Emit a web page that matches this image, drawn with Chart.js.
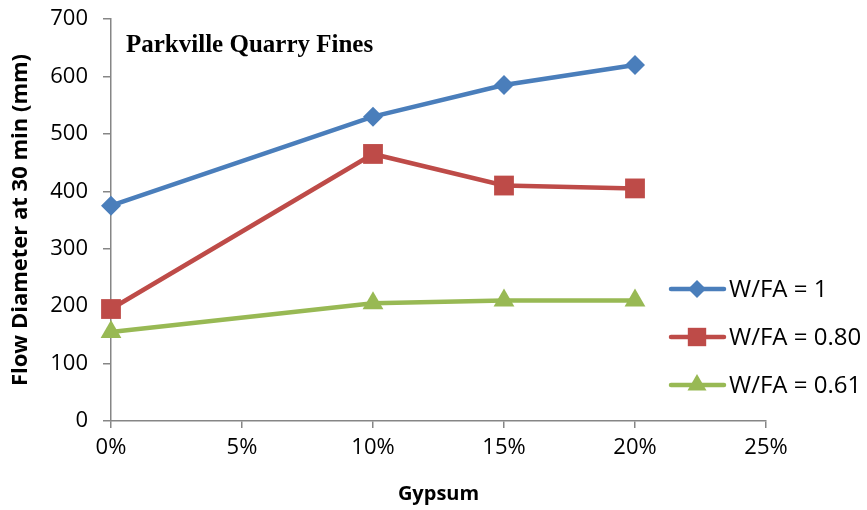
<!DOCTYPE html>
<html>
<head>
<meta charset="utf-8">
<script src="https://cdn.jsdelivr.net/npm/chart.js@4/dist/chart.umd.min.js"></script>
<style>
  html, body { margin: 0; padding: 0; background: #fff; }
  #wrap { width: 867px; height: 510px; }
</style>
</head>
<body>
<div id="wrap"><canvas id="c" width="867" height="510"></canvas></div>
<script>
// Gypsum content (%) and flow diameters at 30 min (mm)
const gypsum = [0, 10, 15, 20];
const flowWFA100 = [375, 530, 585, 620];
const flowWFA080 = [195, 465, 410, 405];
const flowWFA061 = [155, 205, 210, 210];
const seriesNames = ['W/FA = 1', 'W/FA = 0.80', 'W/FA = 0.61'];
const chartTitle = 'Parkville Quarry Fines';
const xTitle = 'Gypsum';
const yTitle = 'Flow Diameter at 30 min (mm)';

const colors = ['#4A7EBB', '#BE4B48', '#98B954'];
const styles = ['rectRot', 'rect', 'triangle'];
const radii = [10, 14, 12];
const axisGray = '#868686';
const tickFont = { family: '"Open Sans", sans-serif', size: 22 };

function pts(ys) { return gypsum.map((x, i) => ({ x: x, y: ys[i] })); }

function ds(label, ys, i) {
  return {
    label: label,
    data: pts(ys),
    borderColor: colors[i],
    backgroundColor: colors[i],
    borderWidth: 4.5,
    pointStyle: styles[i],
    pointRadius: radii[i],
    pointHoverRadius: radii[i],
    pointBorderWidth: 0,
    tension: 0,
    clip: false
  };
}

function drawMarker(ctx, style, x, y, r, color) {
  ctx.save();
  ctx.fillStyle = color;
  ctx.beginPath();
  if (style === 'rectRot') {
    ctx.moveTo(x, y - r); ctx.lineTo(x + r, y); ctx.lineTo(x, y + r); ctx.lineTo(x - r, y);
  } else if (style === 'rect') {
    const h = r * Math.SQRT1_2;
    ctx.rect(x - h, y - h, 2 * h, 2 * h);
  } else {
    const a = Math.PI / 2;
    for (let k = 0; k < 3; k++) {
      const ang = -a + k * 2 * Math.PI / 3;
      const px = x + Math.cos(ang) * r, py = y + Math.sin(ang) * r;
      if (k === 0) ctx.moveTo(px, py); else ctx.lineTo(px, py);
    }
  }
  ctx.closePath();
  ctx.fill();
  ctx.restore();
}

// Title inside the plot area and a line+marker legend on the right
const overlay = {
  id: 'overlay',
  afterDraw(chart) {
    const ctx = chart.ctx;
    const a = chart.chartArea;
    ctx.save();
    ctx.fillStyle = '#000';
    ctx.font = 'bold 25px "Liberation Serif", "Times New Roman", serif';
    ctx.textBaseline = 'middle';
    ctx.textAlign = 'left';
    ctx.fillText(chartTitle, a.left + 15, 46);

    const rowsY = [289, 337, 385];
    chart.data.datasets.forEach((d, i) => {
      const y = rowsY[i];
      ctx.strokeStyle = colors[i];
      ctx.lineWidth = 4.5;
      ctx.lineCap = 'round';
      ctx.beginPath();
      ctx.moveTo(671, y);
      ctx.lineTo(724, y);
      ctx.stroke();
      drawMarker(ctx, styles[i], 697, y, radii[i] - 1, colors[i]);
      ctx.fillStyle = '#000';
      ctx.font = '24px "Open Sans", sans-serif';
      ctx.textAlign = 'left';
      ctx.textBaseline = 'middle';
      ctx.fillText(d.label, 729, y + 1);
    });
    ctx.restore();
  }
};

new Chart(document.getElementById('c'), {
  type: 'line',
  data: {
    datasets: [
      ds(seriesNames[0], flowWFA100, 0),
      ds(seriesNames[1], flowWFA080, 1),
      ds(seriesNames[2], flowWFA061, 2)
    ]
  },
  options: {
    responsive: false,
    animation: false,
    layout: { padding: { top: 19, right: 101, left: 0, bottom: 0 } },
    plugins: { legend: { display: false }, tooltip: { enabled: false } },
    scales: {
      x: {
        type: 'linear',
        min: 0, max: 25,
        afterFit(s) { s.height = 89; s.paddingLeft = 0; s.paddingRight = 0; },
        ticks: {
          stepSize: 5,
          color: '#000',
          font: tickFont,
          padding: 7,
          maxRotation: 0,
          callback: v => v + '%'
        },
        grid: { display: true, drawOnChartArea: false, drawTicks: true, tickLength: 7, color: axisGray, lineWidth: 1.5 },
        border: { display: true, color: axisGray, width: 1.5 },
        title: {
          display: true,
          text: xTitle,
          color: '#000',
          font: { family: '"Open Sans", sans-serif', size: 20, weight: 'bold' },
          padding: { top: 10 }
        }
      },
      y: {
        min: 0, max: 700,
        afterFit(s) { s.width = 111; s.paddingTop = 0; s.paddingBottom = 0; },
        ticks: {
          stepSize: 100,
          color: '#000',
          font: tickFont,
          padding: 15
        },
        grid: { display: true, drawOnChartArea: false, drawTicks: true, tickLength: 8, color: axisGray, lineWidth: 1.5 },
        border: { display: true, color: axisGray, width: 1.5 },
        title: {
          display: true,
          text: yTitle,
          color: '#000',
          font: { family: '"Open Sans", sans-serif', size: 22, weight: 'bold' },
          padding: { top: 8, bottom: 4 }
        }
      }
    }
  },
  plugins: [overlay]
});
</script>
</body>
</html>
